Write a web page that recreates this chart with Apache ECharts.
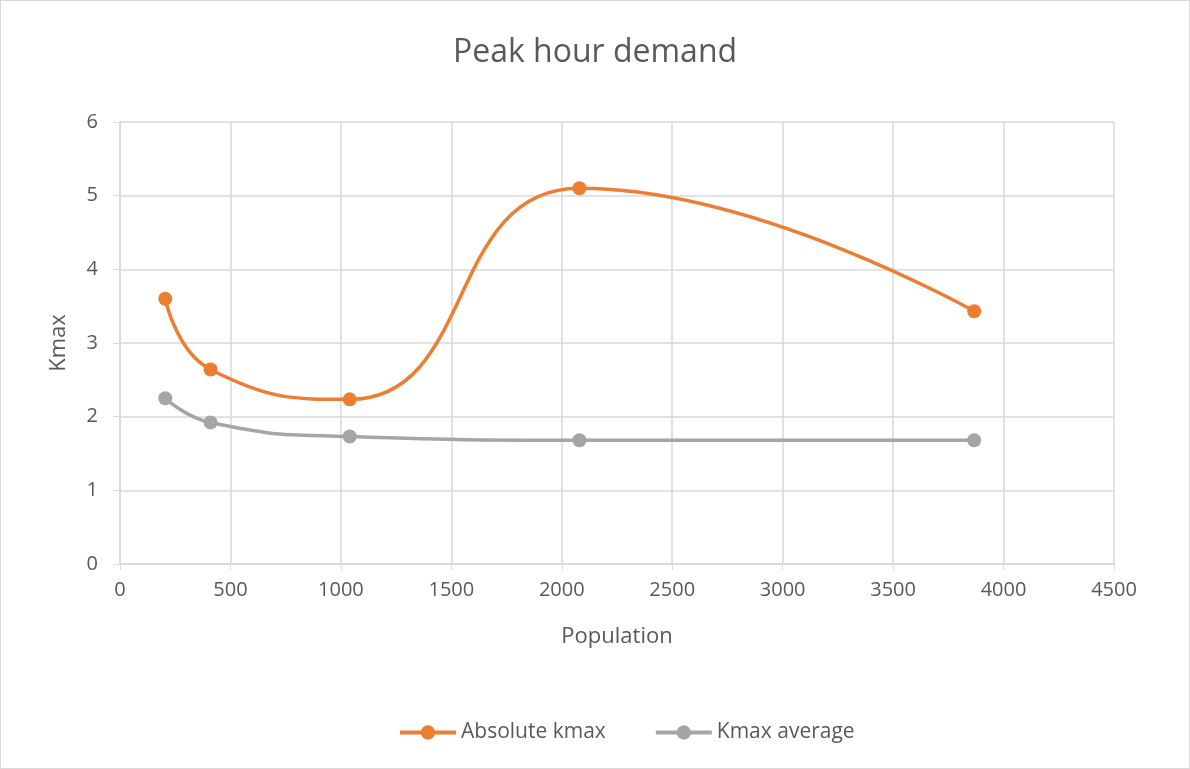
<!DOCTYPE html>
<html>
<head>
<meta charset="utf-8">
<script src="https://cdn.jsdelivr.net/npm/echarts@6/dist/echarts.min.js"></script>
<style>
  html, body { margin: 0; padding: 0; background: #fff; }
  #chart { width: 1188px; height: 767px; border: 1px solid #d9d9d9; }
</style>
</head>
<body>
<div id="chart"></div>
<script>
// data
const population = [205, 410, 1040, 2080, 3867]
const absoluteKmax = [3.60, 2.64, 2.235, 5.10, 3.43]
const kmaxAverage = [2.25, 1.92, 1.73, 1.68, 1.68]

const textColor = '#595959'
const gridColor = '#d9d9d9'

const pairs = (xs, ys) => xs.map((x, i) => [x, ys[i]])

const myChart = echarts.init(document.getElementById('chart'))
myChart.setOption({
  backgroundColor: '#fff',
  animation: false,
  textStyle: { fontFamily: 'Open Sans' },
  title: {
    text: 'Peak hour demand',
    left: 'center',
    top: 31,
    textStyle: { fontSize: 32, fontWeight: 'normal', color: textColor, fontFamily: 'Open Sans' }
  },
  legend: {
    bottom: 20,
    left: 392,
    itemGap: 48,
    itemWidth: 56,
    itemHeight: 18,
    lineStyle: { width: 4 },
    textStyle: { fontSize: 21, color: textColor },
    data: ['Absolute kmax', 'Kmax average']
  },
  grid: { left: 119, right: 75, top: 121, bottom: 204 },
  xAxis: {
    type: 'value',
    min: 0,
    max: 4500,
    interval: 500,
    name: 'Population',
    nameLocation: 'middle',
    nameGap: 62,
    nameTextStyle: { fontSize: 22, color: textColor },
    axisLine: { lineStyle: { color: gridColor, width: 1.5 } },
    axisTick: { show: true, length: 6, lineStyle: { color: gridColor } },
    axisLabel: { fontSize: 20, color: textColor, margin: 16, formatter: v => String(v) },
    splitLine: { lineStyle: { color: gridColor, width: 1.5 } }
  },
  yAxis: {
    type: 'value',
    min: 0,
    max: 6,
    interval: 1,
    name: 'Kmax',
    nameLocation: 'middle',
    nameGap: 50,
    nameTextStyle: { fontSize: 22, color: textColor },
    axisLine: { show: true, lineStyle: { color: gridColor, width: 1.5 } },
    axisTick: { show: true, length: 7, lineStyle: { color: gridColor } },
    axisLabel: { fontSize: 20, color: textColor, margin: 22 },
    splitLine: { lineStyle: { color: gridColor, width: 1.5 } }
  },
  series: [
    {
      name: 'Absolute kmax',
      type: 'line',
      smooth: 0.5,
      data: pairs(population, absoluteKmax),
      symbol: 'circle',
      symbolSize: 14,
      itemStyle: { color: '#ED7D31' },
      lineStyle: { color: '#ED7D31', width: 3.5 }
    },
    {
      name: 'Kmax average',
      type: 'line',
      smooth: 0.5,
      data: pairs(population, kmaxAverage),
      symbol: 'circle',
      symbolSize: 14,
      itemStyle: { color: '#A5A5A5' },
      lineStyle: { color: '#A5A5A5', width: 3.5 }
    }
  ]
})
</script>
</body>
</html>
